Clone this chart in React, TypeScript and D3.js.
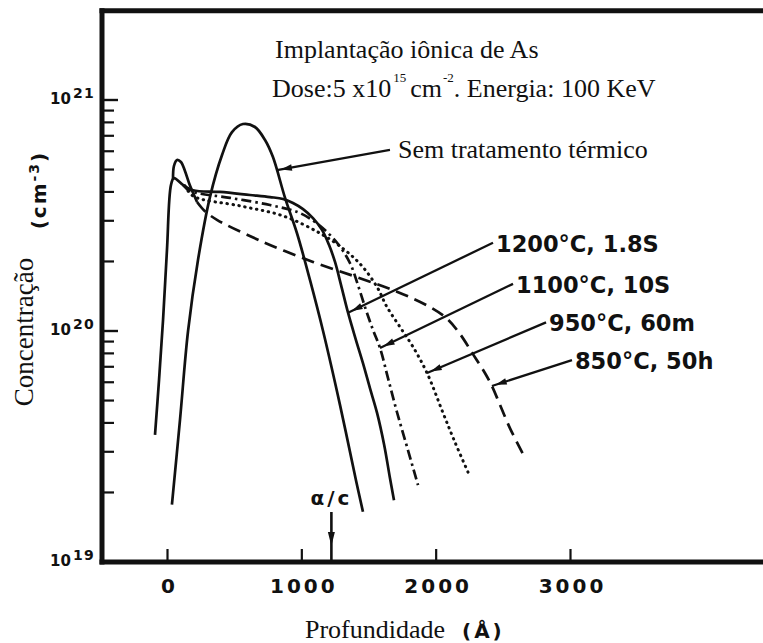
import React from "react";
import * as d3 from "d3";

const WIDTH = 763;
const HEIGHT = 643;

// Arsenic profiles: depth in Å, concentration in cm^-3
const implantedDepth = [33, 93, 153, 227, 316, 406, 480, 562, 651, 726, 785, 875, 964, 1061, 1158, 1284, 1403, 1455];
const implantedConc = [1.77e19, 4.12e19, 1.0e20, 2.03e20, 3.8e20, 5.78e20, 7.26e20, 7.87e20, 7.64e20, 6.71e20, 5.66e20, 3.77e20, 2.65e20, 1.66e20, 1.0e20, 4.79e19, 2.26e19, 1.65e19];

const rta1200Depth = [-93, -63, -33, -4, 26, 48, 115, 190, 391, 614, 763, 860, 934, 1009, 1083, 1150, 1202, 1247, 1292, 1344, 1403, 1455, 1507, 1560, 1613, 1656, 1686];
const rta1200Conc = [3.55e19, 6.14e19, 1.12e20, 2.24e20, 4.29e20, 4.59e20, 4.29e20, 4.07e20, 4.0e20, 3.88e20, 3.8e20, 3.73e20, 3.58e20, 3.37e20, 3.08e20, 2.74e20, 2.36e20, 1.99e20, 1.58e20, 1.2e20, 9.14e19, 7.26e19, 5.66e19, 4.42e19, 3.21e19, 2.31e19, 1.85e19];

const rta1100Depth = [115, 168, 465, 763, 986, 1135, 1262, 1358, 1418, 1478, 1530, 1582, 1641, 1708, 1783, 1865];
const rta1100Conc = [4.29e20, 4.04e20, 3.77e20, 3.51e20, 3.24e20, 2.85e20, 2.41e20, 1.97e20, 1.58e20, 1.23e20, 1.01e20, 8.44e19, 6.27e19, 4.46e19, 3.15e19, 2.15e19];

const furnace950Depth = [130, 190, 540, 860, 1135, 1321, 1448, 1560, 1634, 1731, 1828, 1932, 2051, 2140, 2237];
const furnace950Conc = [4.25e20, 3.84e20, 3.48e20, 3.15e20, 2.65e20, 2.24e20, 1.91e20, 1.55e20, 1.27e20, 1.04e20, 8.53e19, 6.58e19, 4.42e19, 3.3e19, 2.45e19];

const furnace850Depth = [41, 48, 71, 100, 130, 168, 220, 279, 368, 711, 1083, 1411, 1708, 1954, 2081, 2177, 2274, 2363, 2415, 2475, 2549, 2646];
const furnace850Conc = [4.51e20, 5.18e20, 5.5e20, 5.39e20, 4.93e20, 4.25e20, 3.62e20, 3.3e20, 3.03e20, 2.43e20, 1.99e20, 1.71e20, 1.48e20, 1.27e20, 1.13e20, 9.71e19, 7.94e19, 6.58e19, 5.78e19, 4.79e19, 3.8e19, 2.94e19];

// Axis ticks
const xTicks = [0, 1000, 2000, 3000];
const decadeExponents = [19, 20, 21];
const minorMultipliers = [2, 3, 4, 5, 6, 7, 8, 9];

// Callouts: label, arrow tip on the curve, arrow tail next to the label
const calloutText = ["Sem tratamento térmico", "1200°C, 1.8S", "1100°C, 10S", "950°C, 60m", "850°C, 50h"];
const calloutTipDepth = [815, 1344, 1582, 1932, 2415];
const calloutTipConc = [4.97e20, 1.2e20, 8.44e19, 6.58e19, 5.78e19];
const calloutTailDepth = [1656, 2423, 2572, 2818, 3011];
const calloutTailConc = [6.08e20, 2.41e20, 1.6e20, 1.09e20, 7.48e19];

// amorphous / crystalline interface depth
const interfaceDepth = 1220;

const SANS = "DejaVu Sans";
const SERIF = "Liberation Serif";
const INK = "#111";

const zip = (a: number[], b: number[]): [number, number][] => a.map((v, i) => [v, b[i]]);

function arrowHead(tx: number, ty: number, sx: number, sy: number, gap = 4, len = 11, half = 3.2) {
  const dx = sx - tx;
  const dy = sy - ty;
  const L = Math.hypot(dx, dy) || 1;
  const ux = dx / L;
  const uy = dy / L;
  const px = tx + ux * gap;
  const py = ty + uy * gap;
  const bx = tx + ux * (gap + len);
  const by = ty + uy * (gap + len);
  const nx = -uy;
  const ny = ux;
  return `M${px},${py}L${bx + nx * half},${by + ny * half}L${bx - nx * half},${by - ny * half}Z`;
}

export default function App() {
  const x = d3.scaleLinear().domain([0, 3000]).range([167.5, 570.5]);
  const y = d3.scaleLog().domain([1e19, 1e21]).range([562, 100]);

  const axisLeft = 102;
  const frameTop = 10.8;
  const axisBottom = y(1e19);

  const line = d3
    .line<[number, number]>()
    .x((d) => x(d[0]))
    .y((d) => y(d[1]))
    .curve(d3.curveCatmullRom.alpha(0.5));

  const implanted = zip(implantedDepth, implantedConc);
  const r1200 = zip(rta1200Depth, rta1200Conc);
  const r1100 = zip(rta1100Depth, rta1100Conc);
  const f950 = zip(furnace950Depth, furnace950Conc);
  const f850 = zip(furnace850Depth, furnace850Conc);
  const f850Head = 7;

  const minorTicks: number[] = [];
  decadeExponents.slice(0, -1).forEach((e) => {
    minorMultipliers.forEach((m) => minorTicks.push(m * Math.pow(10, e)));
  });

  const ix = x(interfaceDepth);

  return (
    <svg
      width={WIDTH}
      height={HEIGHT}
      viewBox={`0 0 ${WIDTH} ${HEIGHT}`}
      style={{ position: "absolute", left: 0, top: 0, background: "#fff" }}
    >
      <rect width={WIDTH} height={HEIGHT} fill="#fff" />

      {/* frame: top border, left and bottom axes */}
      <line x1={axisLeft - 2.5} x2={WIDTH} y1={frameTop} y2={frameTop} stroke={INK} strokeWidth={5} />
      <line x1={axisLeft} x2={axisLeft} y1={frameTop - 2.5} y2={axisBottom + 2.5} stroke={INK} strokeWidth={5} />
      <line x1={axisLeft - 2.5} x2={WIDTH} y1={axisBottom} y2={axisBottom} stroke={INK} strokeWidth={5} />

      {/* y ticks */}
      {decadeExponents.slice(1).map((e) => (
        <line key={`M${e}`} x1={axisLeft} x2={axisLeft + 16} y1={y(Math.pow(10, e))} y2={y(Math.pow(10, e))} stroke={INK} strokeWidth={2.4} />
      ))}
      {minorTicks.map((v) => (
        <line key={`m${v}`} x1={axisLeft} x2={axisLeft + 12} y1={y(v)} y2={y(v)} stroke={INK} strokeWidth={2.2} />
      ))}
      {decadeExponents.map((e) => (
        <text key={`l${e}`} x={50} y={y(Math.pow(10, e)) + 4} fontFamily={SANS} fontWeight="bold" fontSize={15} fill={INK}>
          10
          <tspan dx={2} dy={-6} fontSize={14} letterSpacing={1.5}>
            {e}
          </tspan>
        </text>
      ))}

      {/* x ticks */}
      {xTicks.map((t) => (
        <g key={`x${t}`}>
          <line x1={x(t)} x2={x(t)} y1={axisBottom} y2={axisBottom - 13} stroke={INK} strokeWidth={2.2} />
          <text x={x(t) + 2} y={593} textAnchor="middle" fontFamily={SANS} fontWeight="bold" fontSize={20} letterSpacing={3} fill={INK}>
            {t}
          </text>
        </g>
      ))}

      {/* axis titles */}
      <text x={305} y={638} fontFamily={SERIF} fontSize={26} fill={INK}>
        Profundidade
      </text>
      <text x={462} y={638} fontFamily={SANS} fontWeight="bold" fontSize={20} letterSpacing={3} fill={INK}>
        (Å)
      </text>
      <text transform="translate(33,332) rotate(-90)" textAnchor="middle" fontFamily={SERIF} fontSize={27} fill={INK}>
        Concentração
      </text>
      <text transform="translate(46,190) rotate(-90)" textAnchor="middle" fontFamily={SANS} fontWeight="bold" fontSize={20} letterSpacing={2} fill={INK}>
        (cm
        <tspan dy={-7} fontSize={14}>
          -3
        </tspan>
        <tspan dy={7}>)</tspan>
      </text>

      {/* header */}
      <text x={275} y={58} fontFamily={SERIF} fontSize={26} fill={INK}>
        Implantação iônica de As
      </text>
      <text x={272} y={97} fontFamily={SERIF} fontSize={26} fill={INK}>
        Dose:5 x10
        <tspan dx={2} dy={-15} fontSize={13}>
          15
        </tspan>
        <tspan dx={4} dy={15}>
          cm
        </tspan>
        <tspan dx={1} dy={-15} fontSize={13}>
          -2
        </tspan>
        <tspan dy={15}>. Energia: 100 KeV</tspan>
      </text>

      {/* concentration profiles */}
      <g fill="none" stroke={INK} strokeWidth={2.7}>
        <path d={line(implanted) || ""} />
        <path d={line(r1200) || ""} />
        <path d={line(r1100) || ""} strokeDasharray="10 4 2.5 4" />
        <path d={line(f950) || ""} strokeDasharray="0.5 5.5" strokeLinecap="round" strokeWidth={3} />
        <path d={line(f850.slice(0, f850Head)) || ""} />
        <path d={line(f850.slice(f850Head - 1)) || ""} strokeDasharray="13 7" />
      </g>

      {/* callouts */}
      {calloutText.map((label, i) => {
        const tx = x(calloutTipDepth[i]);
        const ty = y(calloutTipConc[i]);
        const sx = x(calloutTailDepth[i]);
        const sy = y(calloutTailConc[i]);
        const serif = i === 0;
        return (
          <g key={label}>
            <line x1={tx} y1={ty} x2={sx} y2={sy} stroke={INK} strokeWidth={2.3} />
            <path d={arrowHead(tx, ty, sx, sy)} fill={INK} />
            <text
              x={sx + (serif ? 8 : 3)}
              y={sy + (serif ? 8 : 9)}
              fontFamily={serif ? SERIF : SANS}
              fontWeight={serif ? "normal" : "bold"}
              fontSize={serif ? 26 : 22.5}
              fill={INK}
            >
              {label}
            </text>
          </g>
        );
      })}

      {/* amorphous/crystalline interface marker */}
      <line x1={ix} x2={ix} y1={512} y2={axisBottom - 2} stroke={INK} strokeWidth={2.6} />
      <path d={`M${ix},${546}L${ix - 3.5},${532}L${ix + 3.5},${532}Z`} fill={INK} />
      <text x={ix} y={505} textAnchor="middle" fontFamily={SANS} fontWeight="bold" fontSize={20} letterSpacing={3} fill={INK}>
        α/c
      </text>
    </svg>
  );
}
